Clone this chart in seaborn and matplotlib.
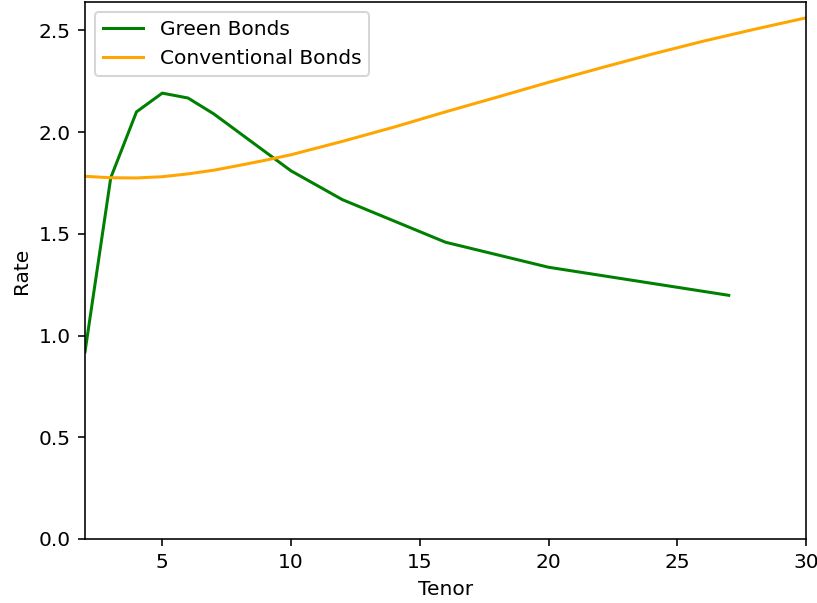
import matplotlib
matplotlib.use("Agg")
import matplotlib.pyplot as plt
import seaborn as sns
import pandas as pd

green_tenor = [2, 3, 4, 5, 6, 7, 10, 12, 16, 20, 27]
green_rate = [0.92, 1.776, 2.10, 2.192, 2.168, 2.09, 1.81, 1.668, 1.459, 1.336, 1.198]

conv_tenor = [2, 3, 4, 5, 6, 7, 8, 9, 10, 12, 14, 16, 18, 20, 22, 24, 26, 28, 30]
conv_rate = [1.783, 1.776, 1.775, 1.781, 1.795, 1.813, 1.837, 1.862, 1.889, 1.955,
             2.025, 2.100, 2.172, 2.245, 2.315, 2.383, 2.447, 2.506, 2.562]

df_g = pd.DataFrame({"Tenor": green_tenor, "Rate": green_rate})
df_c = pd.DataFrame({"Tenor": conv_tenor, "Rate": conv_rate})

dpi = 145
fig = plt.figure(figsize=(817 / dpi, 603 / dpi), dpi=dpi)
ax = fig.add_axes([85 / 817, 1 - 539 / 603, 721 / 817, 537 / 603])

sns.lineplot(data=df_g, x="Tenor", y="Rate", color="green", label="Green Bonds", ax=ax)
sns.lineplot(data=df_c, x="Tenor", y="Rate", color="orange", label="Conventional Bonds", ax=ax)

ax.set_xlim(2, 30)
ax.set_ylim(0, 2.64)
ax.set_xlabel("Tenor")
ax.set_ylabel("Rate")
ax.legend(loc="upper left")

fig.savefig("out.png", dpi=dpi)
